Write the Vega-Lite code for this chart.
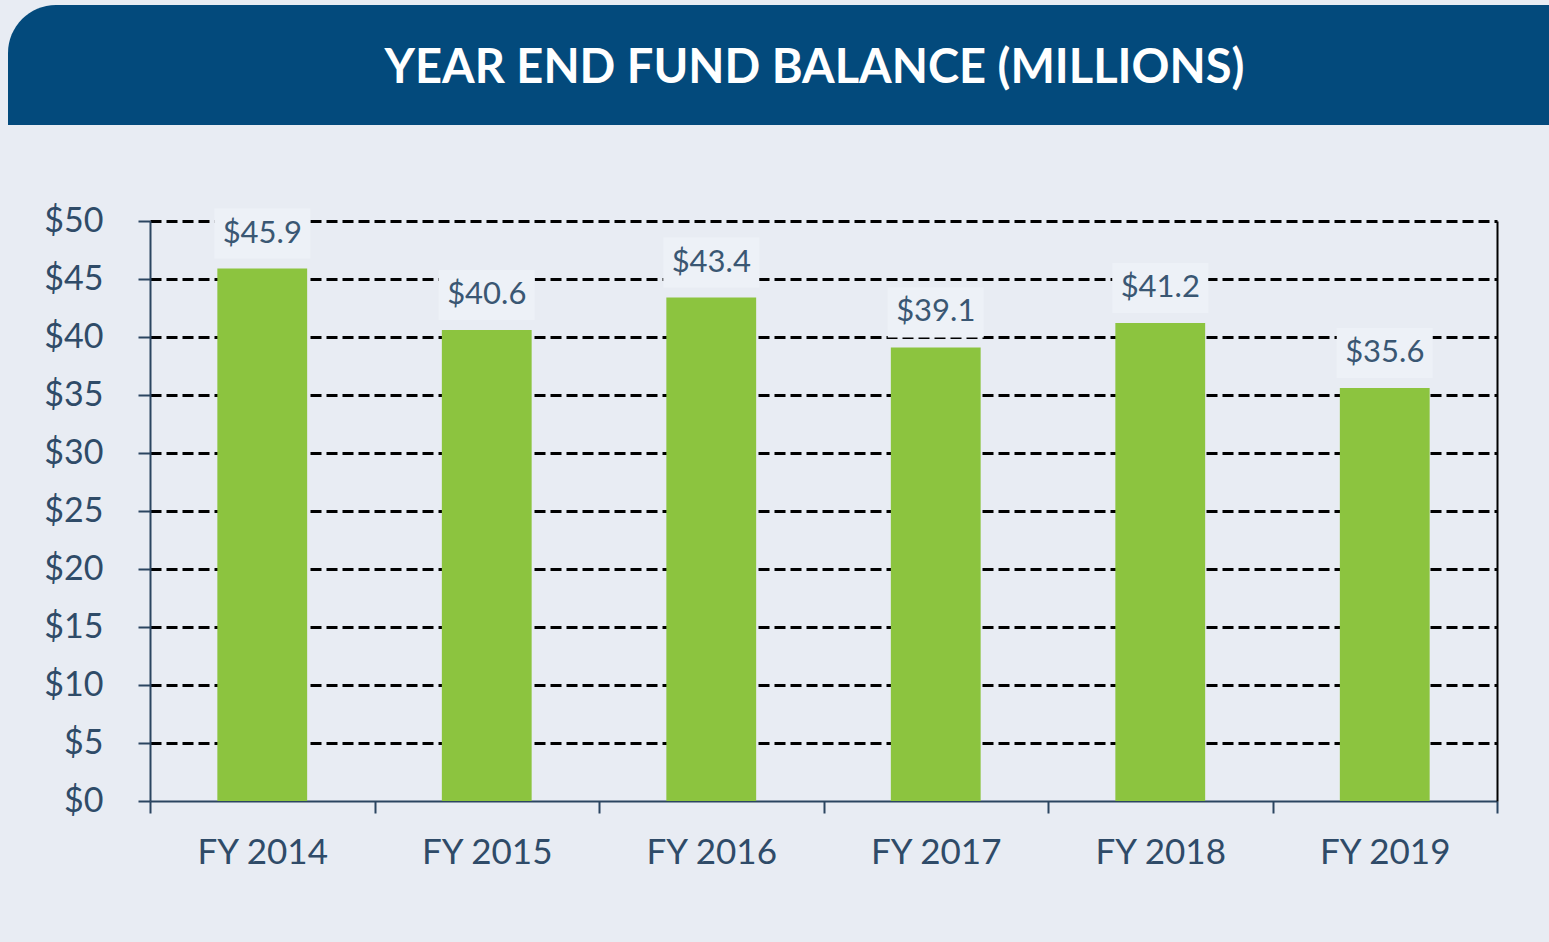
{
  "$schema": "https://vega.github.io/schema/vega-lite/v6.json",
  "background": "#E8ECF3",
  "padding": {"top": 5, "left": 8, "right": 0, "bottom": 75},
  "spacing": 79,
  "config": {
    "font": "Lato",
    "view": {"stroke": null}
  },
  "vconcat": [
    {
      "width": 1541,
      "height": 120,
      "data": {"values": [{"t": "YEAR END FUND BALANCE (MILLIONS)"}]},
      "layer": [
        {
          "mark": {"type": "rect", "color": "#034A7C", "cornerRadiusTopLeft": 48},
          "encoding": {}
        },
        {
          "mark": {"type": "text", "color": "#FFFFFF", "fontSize": 47, "fontWeight": "bold", "font": "Lato", "dx": 36, "dy": 4, "baseline": "middle", "align": "center"},
          "encoding": {"text": {"field": "t", "type": "nominal"}}
        }
      ]
    },
    {
      "spacing": 34,
      "hconcat": [
        {
          "width": 1,
          "height": 580,
          "data": {"values": []},
          "mark": {"type": "rect", "opacity": 0},
          "encoding": {}
        },
        {
          "width": 1347,
          "height": 580,
          "data": {
            "values": [
              {"year": "FY 2014", "value": 45.9},
              {"year": "FY 2015", "value": 40.6},
              {"year": "FY 2016", "value": 43.4},
              {"year": "FY 2017", "value": 39.1},
              {"year": "FY 2018", "value": 41.2},
              {"year": "FY 2019", "value": 35.6}
            ]
          },
          "encoding": {
            "x": {
              "field": "year",
              "type": "nominal",
              "sort": null,
              "scale": {"paddingInner": 0, "paddingOuter": 0},
              "axis": {
                "title": null,
                "labelAngle": 0,
                "labelFontSize": 35,
                "labelColor": "#2F4B68",
                "labelPadding": 22,
                "domainColor": "#2B4560",
                "domainWidth": 2,
                "tickBand": "extent",
                "tickSize": 12,
                "tickColor": "#2B4560",
                "tickWidth": 2,
                "grid": false
              }
            }
          },
          "layer": [
            {
              "mark": {"type": "bar", "color": "#8CC43F", "width": {"band": 0.4}},
              "encoding": {
                "y": {
                  "field": "value",
                  "type": "quantitative",
                  "scale": {"domain": [0, 50], "nice": false},
                  "axis": {
                    "orient": "left",
                    "values": [0, 5, 10, 15, 20, 25, 30, 35, 40, 45, 50],
                    "labelExpr": "'$' + datum.value",
                    "labelFontSize": 34,
                    "labelColor": "#2F4B68",
                    "labelPadding": 35,
                    "domainColor": "#2B4560",
                    "domainWidth": 2,
                    "tickSize": 12,
                    "tickColor": "#2B4560",
                    "tickWidth": 2,
                    "grid": true,
                    "gridColor": "#000000",
                    "gridWidth": 3,
                    "gridDash": [11, 5],
                    "gridOpacity": {"condition": {"test": "datum.value === 0", "value": 0}, "value": 1},
                    "title": null
                  }
                }
              }
            },
            {
              "mark": {"type": "point", "shape": "M-1,-0.52L1,-0.52L1,0.52L-1,0.52Z", "filled": true, "color": "#EDF1F7", "opacity": 1, "size": 9216, "yOffset": -35, "strokeWidth": 0},
              "encoding": {
                "y": {"field": "value", "type": "quantitative", "axis": null}
              }
            },
            {
              "mark": {"type": "text", "fontSize": 31, "dy": -35, "color": "#3A5773", "baseline": "middle"},
              "encoding": {
                "y": {
                  "field": "value",
                  "type": "quantitative",
                  "axis": {
                    "orient": "right",
                    "labels": false,
                    "ticks": false,
                    "grid": false,
                    "domain": true,
                    "domainColor": "#000000",
                    "domainWidth": 2,
                    "title": null
                  }
                },
                "text": {"field": "value", "type": "quantitative", "format": "$.1f"}
              }
            }
          ],
          "resolve": {"axis": {"y": "independent"}}
        }
      ]
    }
  ]
}
